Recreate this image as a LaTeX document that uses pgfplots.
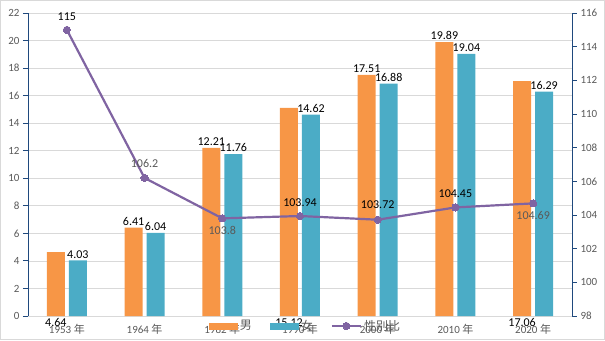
\documentclass[border=0pt]{standalone}
\usepackage{fontspec}
\setmainfont{Carlito}
\newfontfamily\cjk{Noto Sans CJK SC}
\usepackage{pgfplots}
\pgfplotsset{compat=1.18}
\definecolor{cOr}{HTML}{F79646}
\definecolor{cTe}{HTML}{4BACC6}
\definecolor{cPu}{HTML}{8064A2}
\definecolor{cAx}{HTML}{1F497D}
\definecolor{cGr}{HTML}{D9D9D9}
\definecolor{cTx}{HTML}{595959}
\pgfplotsset{
  barleg/.style={legend image code/.code={\fill[##1] (0pt,-3.5pt) rectangle (29pt,3.5pt);}},
  lineleg/.style={legend image code/.code={\draw[mark repeat=2,mark phase=2,##1] plot coordinates {(0pt,0pt)(14.5pt,0pt)(29pt,0pt)};}},
}
\begin{document}
\begin{tikzpicture}[x=1pt,y=1pt]
\path[use as bounding box, draw=cGr, line width=1pt] (0.5,0.5) rectangle (604.5,339.5);
\begin{axis}[
  at={(28pt,24pt)}, anchor=south west,
  scale only axis, width=544pt, height=303pt,
  xmin=-0.5, xmax=6.5, ymin=0, ymax=22,
  ytick={0,2,...,22}, xtick={0,...,6},
  xticklabels={1953 {\cjk 年},1964 {\cjk 年},1982 {\cjk 年},1990 {\cjk 年},2000 {\cjk 年},2010 {\cjk 年},2020 {\cjk 年}},
  axis lines*=left,
  x axis line style={cGr, line width=0.8pt},
  y axis line style={cAx, line width=0.9pt},
  ytick style={cAx, line width=0.9pt},
  xtick style={draw=none},
  tick align=outside, major tick length=5pt,
  ymajorgrids, grid style={cGr, line width=0.7pt},
  ticklabel style={font=\fontsize{11}{13}\selectfont, text=cTx},
  /pgf/number format/assume math mode=true,
  ybar=4pt, bar width=18pt,
  clip=false,
  nodes near coords,
  point meta=explicit symbolic,
  every node near coord/.append style={font=\fontsize{12}{14}\selectfont, text=black, inner sep=2pt},
]
\addplot[fill=cOr, draw=none] coordinates {(0,4.64) [] (1,6.41) [6.41] (2,12.21) [12.21] (3,15.12) [] (4,17.51) [17.51] (5,19.89) [19.89] (6,17.06) []};
\addplot[fill=cTe, draw=none] coordinates {(0,4.03) [4.03] (1,6.04) [6.04] (2,11.76) [11.76] (3,14.62) [14.62] (4,16.88) [16.88] (5,19.04) [19.04] (6,16.29) [16.29]};
\node[font=\fontsize{12}{14}\selectfont, xshift=-11pt] at (axis cs:0,-0.45) {4.64};
\node[font=\fontsize{12}{14}\selectfont, xshift=-11pt] at (axis cs:3,-0.45) {15.12};
\node[font=\fontsize{12}{14}\selectfont, xshift=-11pt] at (axis cs:6,-0.45) {17.06};
\end{axis}
\begin{axis}[
  at={(28pt,24pt)}, anchor=south west,
  scale only axis, width=544pt, height=303pt,
  xmin=-0.5, xmax=6.5, ymin=98, ymax=116,
  ytick={98,100,...,116},
  axis y line*=right, axis x line=none,
  y axis line style={cAx, line width=0.9pt},
  ytick style={cAx, line width=0.9pt},
  tick align=outside, major tick length=5pt,
  ticklabel style={font=\fontsize{11}{13}\selectfont, text=cTx},
  /pgf/number format/assume math mode=true,
  clip=false,
  legend columns=3,
  legend style={at={(0.51,-0.033)}, anchor=center, draw=none, fill=none,
    font=\fontsize{12}{14}\selectfont\cjk, text=cTx,
    /tikz/every even column/.append style={column sep=16pt}},
]
\addlegendimage{fill=cOr, draw=none, barleg}
\addlegendentry{男}
\addlegendimage{fill=cTe, draw=none, barleg}
\addlegendentry{女}
\addplot[cPu, line width=2.2pt, mark=*, mark size=3.6pt, mark options={fill=cPu, draw=cPu, line width=0pt},
  lineleg,
  nodes near coords, point meta=explicit symbolic,
  visualization depends on={\thisrow{dy} \as \dy},
  visualization depends on={value \thisrow{col} \as \lc},
  every node near coord/.append style={font=\fontsize{12}{14}\selectfont, anchor=center, yshift=\dy pt, text=\lc},
] table[meta=lab] {
x y lab dy col
0 115 115 13 black
1 106.2 106.2 14 cTx
2 103.8 103.8 -12 cTx
3 103.94 103.94 13 black
4 103.72 103.72 15 black
5 104.45 104.45 14 black
6 104.69 104.69 -12 cTx
};
\addlegendentry{性别比}
\end{axis}
\end{tikzpicture}
\end{document}
